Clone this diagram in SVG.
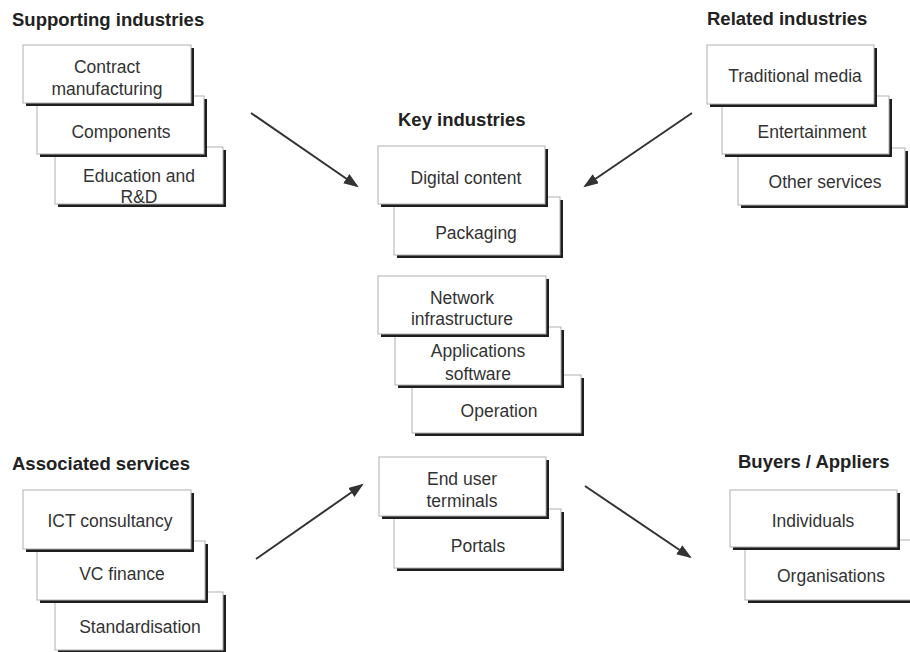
<svg xmlns="http://www.w3.org/2000/svg" width="910" height="652" viewBox="0 0 910 652">
  <style>
    .shadow { fill: #1e1e1e; }
    .card { fill: #ffffff; stroke: #b0b0b0; stroke-width: 1; }
    .label { font-family: "Liberation Sans", Arial, sans-serif; font-size: 17.5px; fill: #333333; text-anchor: middle; }
    .title { font-family: "Liberation Sans", Arial, sans-serif; font-size: 18.5px; font-weight: bold; fill: #222222; }
    .arrow { stroke: #333333; stroke-width: 2; fill: none; marker-end: url(#head); }
  </style>
  <defs>
    <marker id="head" markerUnits="userSpaceOnUse" markerWidth="16" markerHeight="12" refX="13" refY="5.5" orient="auto">
      <path d="M0,0 L15,5.5 L0,11 z" fill="#333333"/>
    </marker>
  </defs>
  <rect width="910" height="652" fill="#ffffff"/>

  <!-- group titles -->
  <text class="title" x="12" y="26">Supporting industries</text>
  <text class="title" x="398" y="126">Key industries</text>
  <text class="title" x="707" y="25">Related industries</text>
  <text class="title" x="12" y="470">Associated services</text>
  <text class="title" x="738" y="468">Buyers / Appliers</text>

  <!-- Supporting industries (back to front) -->
  <g id="education-rd">
    <rect class="shadow" x="58" y="150" width="168" height="57"/>
    <rect class="card" x="55" y="147" width="168" height="57"/>
    <text class="label" x="139" y="182">Education and</text>
    <text class="label" x="139" y="203">R&amp;D</text>
  </g>
  <g id="components">
    <rect class="shadow" x="40" y="99" width="167" height="58"/>
    <rect class="card" x="37" y="96" width="167" height="58"/>
    <text class="label" x="121" y="138">Components</text>
  </g>
  <g id="contract-manufacturing">
    <rect class="shadow" x="26" y="48" width="168" height="58"/>
    <rect class="card" x="23" y="45" width="168" height="58"/>
    <text class="label" x="107" y="73">Contract</text>
    <text class="label" x="107" y="95">manufacturing</text>
  </g>

  <!-- Related industries -->
  <g id="other-services">
    <rect class="shadow" x="741" y="151" width="167" height="57"/>
    <rect class="card" x="738" y="148" width="167" height="57"/>
    <text class="label" x="825" y="188">Other services</text>
  </g>
  <g id="entertainment">
    <rect class="shadow" x="725" y="99" width="167" height="58"/>
    <rect class="card" x="722" y="96" width="167" height="58"/>
    <text class="label" x="812" y="138">Entertainment</text>
  </g>
  <g id="traditional-media">
    <rect class="shadow" x="710" y="48" width="167" height="59"/>
    <rect class="card" x="707" y="45" width="167" height="59"/>
    <text class="label" x="795" y="82">Traditional media</text>
  </g>

  <!-- Key industries -->
  <g id="packaging">
    <rect class="shadow" x="397" y="200" width="166" height="58"/>
    <rect class="card" x="394" y="197" width="166" height="58"/>
    <text class="label" x="476" y="239">Packaging</text>
  </g>
  <g id="digital-content">
    <rect class="shadow" x="381" y="149" width="167" height="58"/>
    <rect class="card" x="378" y="146" width="167" height="58"/>
    <text class="label" x="466" y="184">Digital content</text>
  </g>

  <g id="operation">
    <rect class="shadow" x="415" y="378" width="169" height="58"/>
    <rect class="card" x="412" y="375" width="169" height="58"/>
    <text class="label" x="499" y="417">Operation</text>
  </g>
  <g id="applications-software">
    <rect class="shadow" x="398" y="330" width="166" height="58"/>
    <rect class="card" x="395" y="327" width="166" height="58"/>
    <text class="label" x="478" y="357">Applications</text>
    <text class="label" x="478" y="380">software</text>
  </g>
  <g id="network-infrastructure">
    <rect class="shadow" x="381" y="279" width="168" height="58"/>
    <rect class="card" x="378" y="276" width="168" height="58"/>
    <text class="label" x="462" y="304">Network</text>
    <text class="label" x="462" y="325">infrastructure</text>
  </g>

  <g id="portals">
    <rect class="shadow" x="397" y="512" width="167" height="59"/>
    <rect class="card" x="394" y="509" width="167" height="59"/>
    <text class="label" x="478" y="552">Portals</text>
  </g>
  <g id="end-user-terminals">
    <rect class="shadow" x="382" y="460" width="167" height="59"/>
    <rect class="card" x="379" y="457" width="167" height="59"/>
    <text class="label" x="462" y="485">End user</text>
    <text class="label" x="462" y="507">terminals</text>
  </g>

  <!-- Associated services -->
  <g id="standardisation">
    <rect class="shadow" x="58" y="595" width="168" height="58"/>
    <rect class="card" x="55" y="592" width="168" height="58"/>
    <text class="label" x="140" y="633">Standardisation</text>
  </g>
  <g id="vc-finance">
    <rect class="shadow" x="40" y="544" width="168" height="59"/>
    <rect class="card" x="37" y="541" width="168" height="59"/>
    <text class="label" x="122" y="580">VC finance</text>
  </g>
  <g id="ict-consultancy">
    <rect class="shadow" x="26" y="493" width="168" height="59"/>
    <rect class="card" x="23" y="490" width="168" height="59"/>
    <text class="label" x="110" y="527">ICT consultancy</text>
  </g>

  <!-- Buyers / Appliers -->
  <g id="organisations">
    <rect class="shadow" x="748" y="543" width="170" height="60"/>
    <rect class="card" x="745" y="540" width="170" height="60"/>
    <text class="label" x="831" y="582">Organisations</text>
  </g>
  <g id="individuals">
    <rect class="shadow" x="733" y="493" width="167" height="57"/>
    <rect class="card" x="730" y="490" width="167" height="57"/>
    <text class="label" x="813" y="527">Individuals</text>
  </g>

  <!-- connectors -->
  <g id="connectors">
    <line class="arrow" x1="251" y1="113" x2="357" y2="186"/>
    <line class="arrow" x1="692" y1="113" x2="585" y2="186"/>
    <line class="arrow" x1="256" y1="559" x2="362" y2="485"/>
    <line class="arrow" x1="585" y1="486" x2="690" y2="557"/>
  </g>
</svg>
